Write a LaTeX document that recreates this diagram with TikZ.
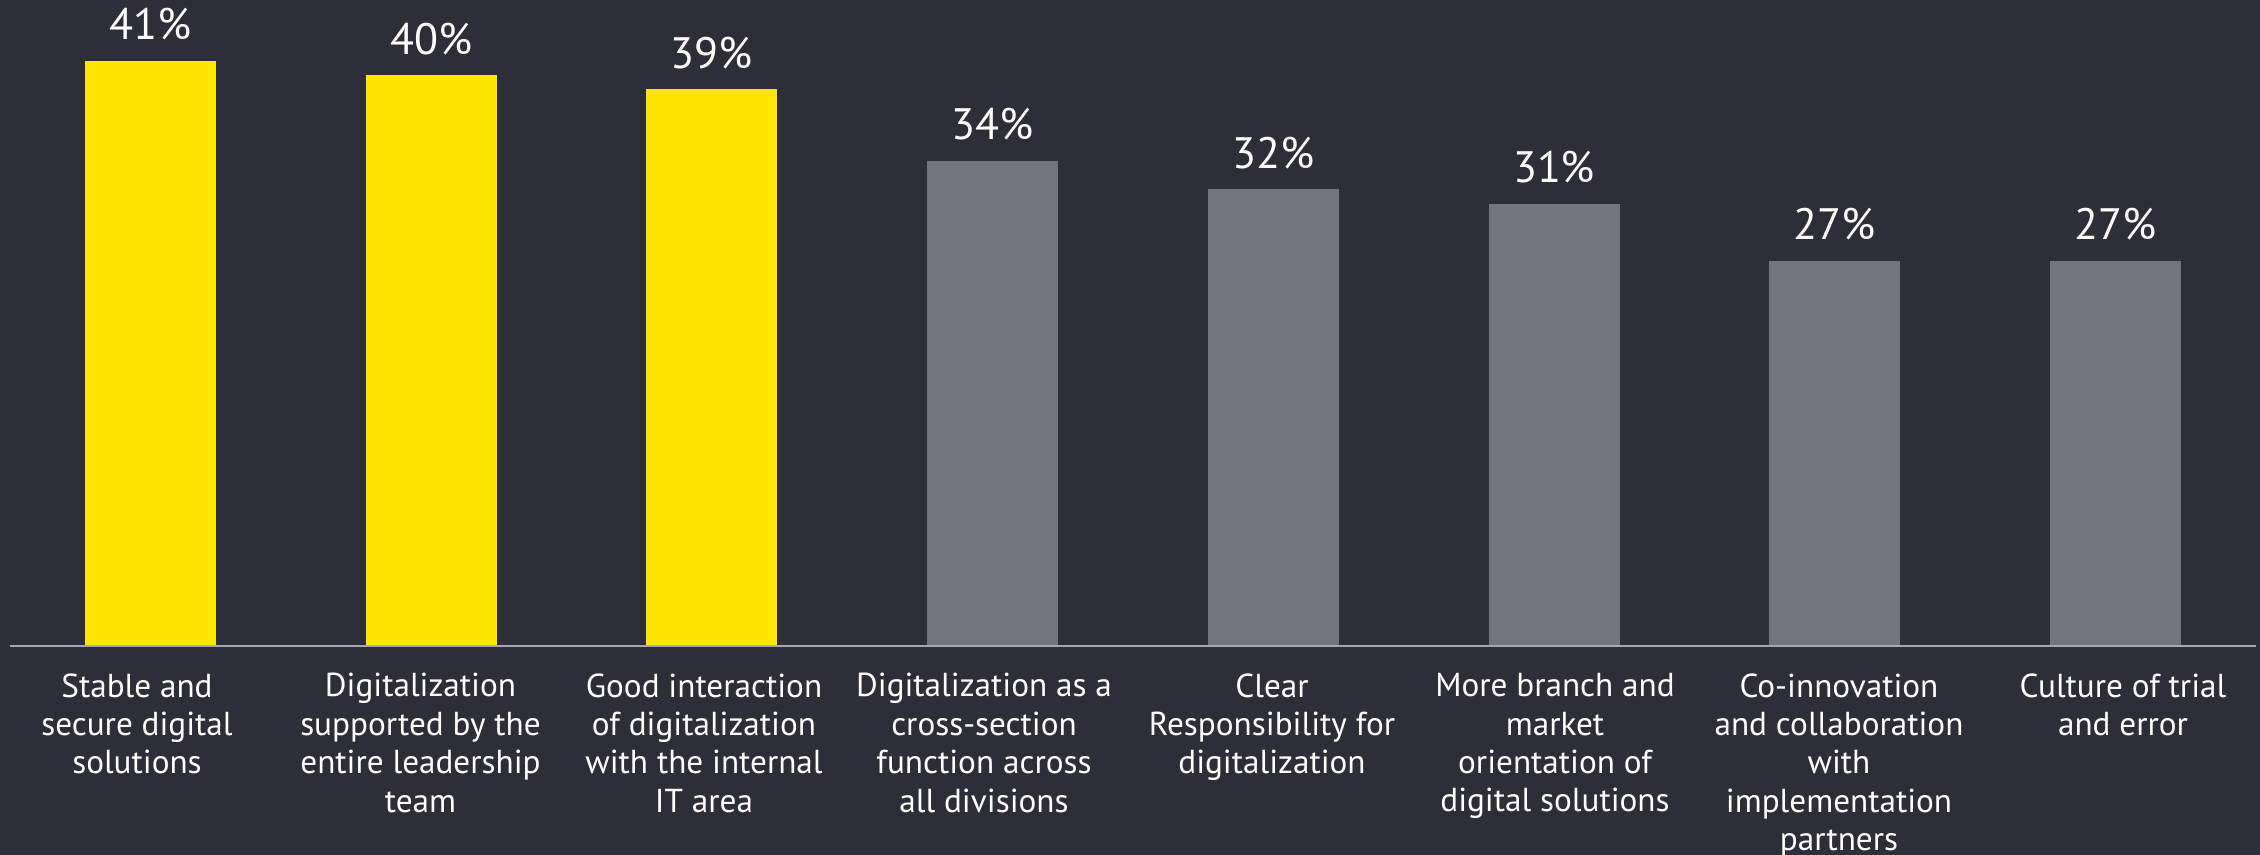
\documentclass[tikz,border=0pt]{standalone}
\usepackage{fontspec}
\setmainfont{PT Sans}
\definecolor{bgc}{HTML}{2E2E38}
\definecolor{eyyellow}{HTML}{FFE600}
\definecolor{eygray}{HTML}{747480}
\definecolor{axisc}{HTML}{A8A8B0}
\tikzset{
  barbox/.style={inner sep=0pt, outer sep=0pt, minimum width=65.5pt, anchor=south},
  pct/.style={text=white, font=\fontsize{22}{26}\selectfont, anchor=base, inner sep=0pt},
  cat/.style={text=white, font=\fontsize{16.6}{19.2}\selectfont, anchor=north, align=center, inner sep=0pt},
}
\begin{document}
\begin{tikzpicture}[x=0.5pt,y=-0.5pt]
\fill[bgc] (0,0) rectangle (2260,855);
\useasboundingbox (0,0) rectangle (2260,855);
\foreach \i/\v/\c/\lx/\t in {
  0/41/eyyellow/137/{Stable and\\secure digital\\solutions},
  1/40/eyyellow/420.5/{Digitalization\\supported by the\\entire leadership\\team},
  2/39/eyyellow/704/{Good interaction\\of digitalization\\with the internal\\IT area},
  3/34/eygray/984/{Digitalization as a\\cross-section\\function across\\all divisions},
  4/32/eygray/1272/{Clear\\Responsibility for\\digitalization},
  5/31/eygray/1555/{More branch and\\market\\orientation of\\digital solutions},
  6/27/eygray/1839/{Co-innovation\\and collaboration\\with\\implementation\\partners},
  7/27/eygray/2123/{Culture of trial\\and error}} {
  \pgfmathsetmacro{\cx}{150.5+280.7*\i}
  \pgfmathsetmacro{\h}{14.27*\v}
  \node[barbox, fill=\c, minimum height=\h*0.5pt] (bar\i) at (\cx,646) {};
  \node[pct] (pct\i) at ([yshift=10.5pt]bar\i.north) {\v\%};
  \node[cat] (cat\i) at (\lx,673) {\t};
}
\coordinate (axL) at (10,646);
\coordinate (axR) at (2256,646);
\draw[axisc, line width=1pt] (axL) -- (axR);
\end{tikzpicture}
\end{document}
